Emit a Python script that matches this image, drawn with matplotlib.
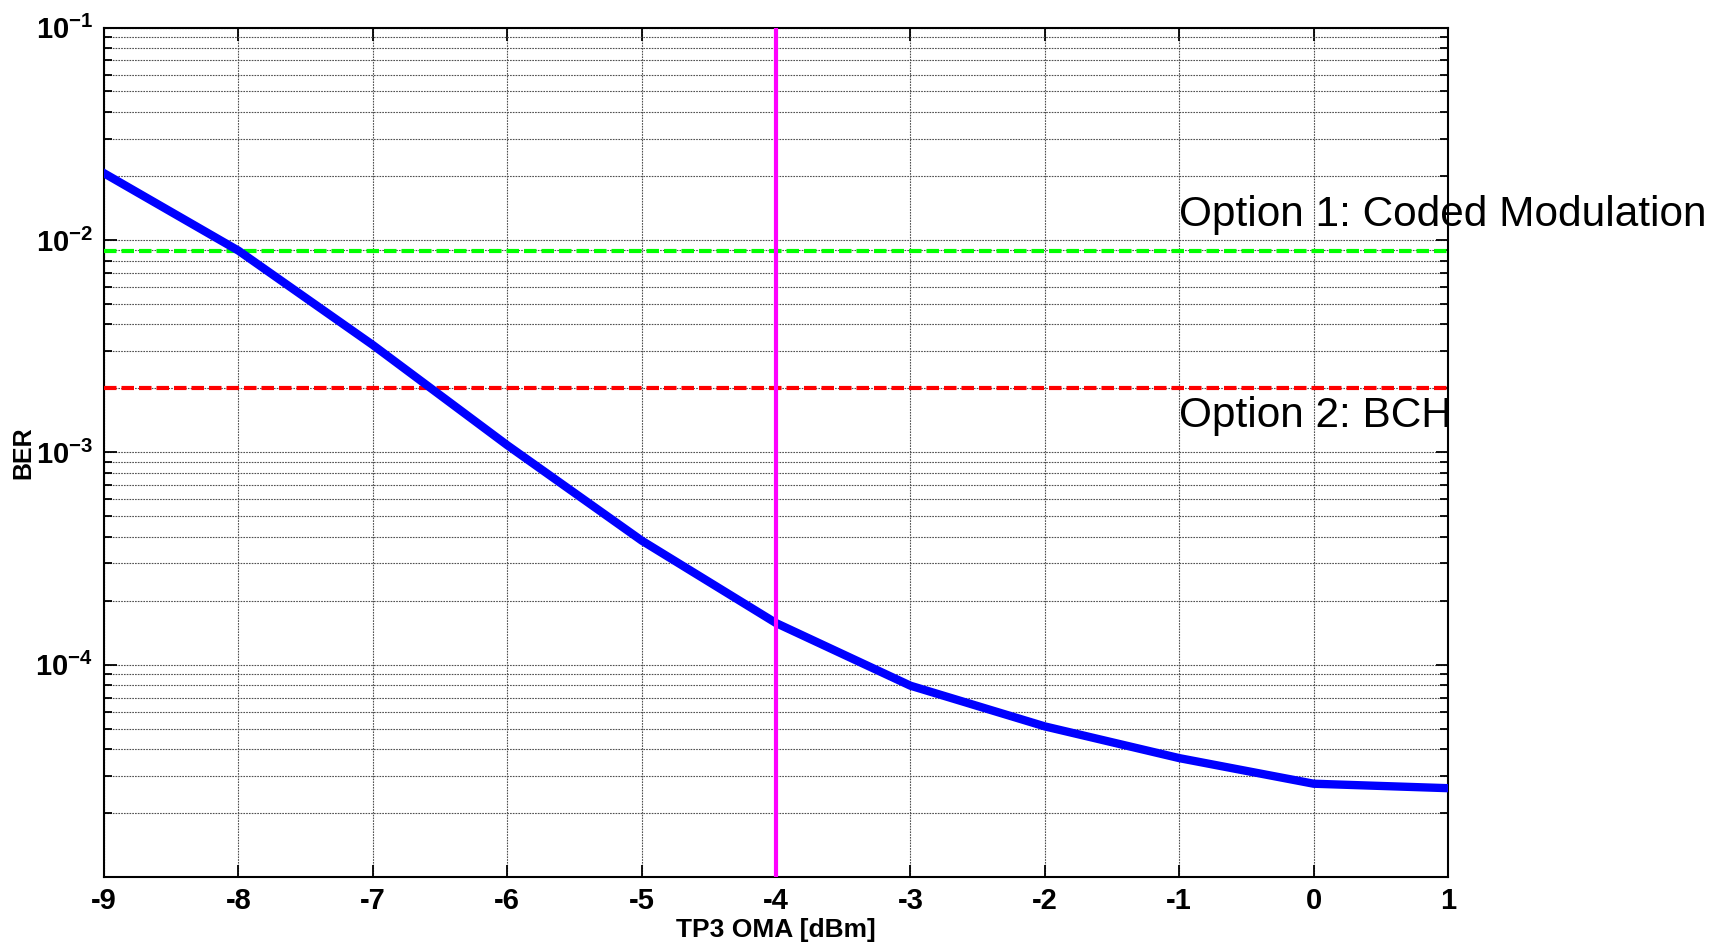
import numpy as np
import matplotlib.pyplot as plt
from matplotlib.ticker import LogLocator, NullFormatter

plt.rcParams['font.family'] = ['Liberation Sans', 'DejaVu Sans']
plt.rcParams['axes.unicode_minus'] = False
plt.rcParams['mathtext.fontset'] = 'custom'
plt.rcParams['mathtext.bf'] = 'Liberation Sans:bold'
plt.rcParams['mathtext.rm'] = 'Liberation Sans:bold'
plt.rcParams['mathtext.default'] = 'bf'

# data
oma_dbm = [-9, -8, -7, -6, -5, -4, -3, -2, -1, 0, 1]
ber = [2.06e-2, 8.9e-3, 3.2e-3, 1.08e-3, 3.84e-4, 1.57e-4, 7.96e-5, 5.12e-5, 3.63e-5, 2.75e-5, 2.62e-5]
thr_coded = 8.9e-3
thr_bch = 2.0e-3
oma_mark = -4
x_ticks = [-9, -8, -7, -6, -5, -4, -3, -2, -1, 0, 1]
y_ticks = [1e-4, 1e-3, 1e-2, 1e-1]
y_labels = ['$10^{-4}$', '$10^{-3}$', '$10^{-2}$', '$10^{-1}$']

fig = plt.figure(figsize=(17.23, 9.47), dpi=100)
ax = fig.add_axes([0.0604, 0.0739, 0.78, 0.897])

ax.set_yscale('log')
ax.set_xlim(-9, 1)
ax.set_ylim(1e-5, 1e-1)

# grid (matlab style dotted)
ax.set_xticks(x_ticks)
ax.set_xticklabels([str(v) for v in x_ticks])
ax.set_yticks(y_ticks)
ax.set_yticklabels(y_labels)
ax.yaxis.set_minor_locator(LogLocator(base=10, subs=np.arange(2, 10)))
ax.yaxis.set_minor_formatter(NullFormatter())
ax.grid(True, which='major', axis='both', color='#505050', linestyle=(0, (1.5, 1)), linewidth=0.8)
ax.grid(True, which='minor', axis='y', color='#505050', linestyle=(0, (1.5, 1)), linewidth=0.8)
ax.set_axisbelow(True)

ax.plot(oma_dbm, ber, color='#0000ff', linewidth=6, zorder=4)
ax.axhline(thr_coded, color='#00ff00', linestyle=(0, (3, 1.2)), linewidth=3, zorder=3)
ax.axhline(thr_bch, color='#ff0000', linestyle=(0, (3, 1.2)), linewidth=3, zorder=3)
ax.axvline(oma_mark, color='#ff00ff', linewidth=3, zorder=5)

ax.text(-1, 1.16e-2, 'Option 1: Coded Modulation', fontsize=30.5, va='baseline', ha='left')
ax.text(-1, 1.32e-3, 'Option 2: BCH', fontsize=30.5, va='baseline', ha='left')

ax.tick_params(which='both', direction='in', top=True, right=True, width=1.3)
ax.tick_params(axis='x', which='major', length=9, labelsize=21, pad=7)
ax.tick_params(axis='y', which='major', length=9, labelsize=21, pad=8)
ax.tick_params(which='minor', length=6)
for lab in ax.get_xticklabels() + ax.get_yticklabels():
    lab.set_fontweight('bold')
for s in ax.spines.values():
    s.set_linewidth(1.5)

ax.set_xlabel('TP3 OMA [dBm]', fontsize=19, fontweight='bold', labelpad=2)
ax.set_ylabel('BER', fontsize=18, fontweight='bold', labelpad=0)

fig.savefig('out.png', dpi=100)
